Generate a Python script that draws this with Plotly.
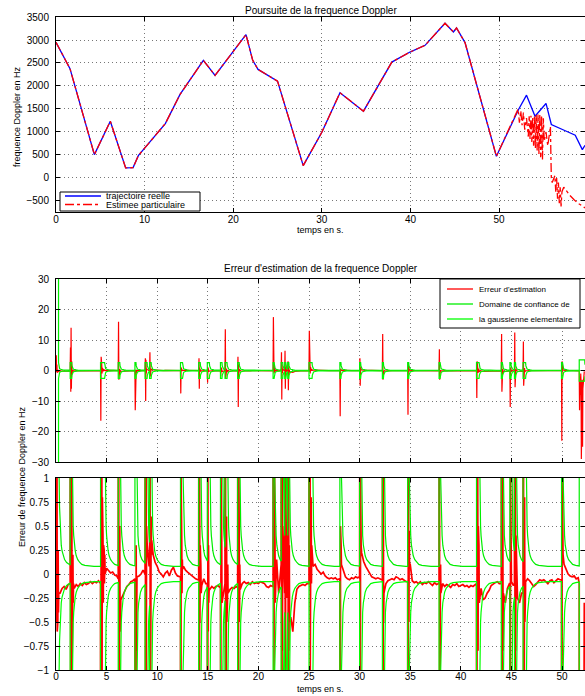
import numpy as np
import plotly.graph_objects as go

# ---------------- Poursuite de la frequence Doppler ----------------
temps_traj = [0, 1.58, 4.33, 6.13, 7.86, 8.7, 9.29, 12.34, 14.0, 14.9, 16.63, 17.95, 21.44,
              22.2, 22.8, 25.0, 27.9, 30.0, 32.05, 34.7, 37.9, 39.95, 41.65, 43.9, 44.85,
              45.2, 46.16, 49.7, 52.2, 53.1, 54.06, 55.3, 55.9, 57.6, 58.6, 59.4, 59.7]
freq_traj = [2950, 2376, 508, 1234, 218, 225, 486, 1183, 1816, 2070, 2557, 2230, 3117,
             2557, 2360, 2106, 268, 994, 1853, 1452, 2520, 2738, 2884, 3364, 3174,
             3261, 2943, 471, 1489, 1801, 1343, 1620, 1162, 1016, 929, 617, 711]

# fin de l'estimee particulaire (decrochage apres 52 s)
temps_est_fin = [52.0, 52.15, 52.3, 52.45, 52.6, 52.75, 52.9, 53.1, 53.3, 53.4, 53.5, 53.6,
                 53.7, 53.8, 53.9, 54.0, 54.1, 54.2, 54.3, 54.4, 54.5, 54.6, 54.7, 54.8,
                 54.9, 55.0, 55.1, 55.3, 55.5, 55.8, 55.85, 55.9, 56.0, 56.3, 56.4, 56.5,
                 56.6, 56.7, 56.8, 56.9, 57.0, 57.1, 57.3, 58.0, 58.5, 59.0, 59.7]
freq_est_fin = [1410, 1500, 1200, 1460, 1150, 1420, 1050, 1300, 900, 1340, 850, 1350,
                780, 1330, 700, 1350, 650, 1370, 600, 1380, 520, 1380, 450, 1360,
                400, 1300, 800, 1000, 700, 1120, 500, 0, -100, 50, -300, 0,
                -450, -100, -550, -200, -620, -300, -200, -380, -480, -560, -650]

# ---------------- Erreur d'estimation ----------------
pas_base = 0.2
erreur_base = [
    0.10, -0.30, -0.20, -0.15, -0.13, -0.16, -0.11, -0.14, -0.12, -0.15,
    -0.11, -0.13, -0.10, -0.12, -0.09, -0.11, -0.10, -0.08, -0.10, -0.08,
    -0.09, -0.07, -0.08, 0.05, 0.15, 0.06, 0.03, 0.01, 0.02, -0.01,
    -0.02, -0.03, -0.27, -0.22, -0.17, -0.13, -0.11, -0.08, -0.07, -0.05,
    -0.03, -0.02, 0.00, 0.04, 0.02, 0.05, 0.08, 0.30, 0.20, 0.12,
    0.08, 0.02, 0.00, -0.03, 0.01, 0.03, -0.02, 0.04, 0.07, 0.01,
    -0.02, -0.03, 0.10, 0.08, 0.04, 0.02, 0.00, -0.02, -0.04, -0.05,
    -0.06, -0.08, -0.12, -0.05, -0.10, -0.20, -0.16, -0.13, -0.15, -0.13,
    -0.12, -0.14, -0.10, -0.18, -0.15, -0.13, -0.16, -0.14, -0.15, -0.13,
    -0.12, -0.16, -0.10, -0.08, -0.10, -0.09, -0.11, -0.08, -0.10, -0.09,
    -0.10, -0.08, -0.09, -0.10, -0.13, -0.14, -0.12, -0.13, -0.10, 0.15,
    -0.20, 0.10, -0.30, 0.20, -0.25, -0.10, -0.45, -0.60, -0.30, -0.16,
    -0.13, -0.12, -0.11, -0.12, -0.10, 0.00, 0.12, 0.08, 0.10, 0.05,
    0.03, 0.00, 0.02, -0.02, -0.04, -0.05, -0.04, -0.05, -0.04, -0.06,
    -0.05, 0.05, 0.03, -0.03, -0.05, -0.06, -0.04, -0.05, -0.03, -0.04,
    -0.03, 0.22, 0.13, 0.08, 0.04, 0.00, -0.03, -0.04, -0.05, -0.04,
    -0.05, -0.06, -0.15, -0.10, -0.07, -0.06, -0.05, -0.06, -0.03, -0.04,
    -0.06, -0.05, -0.07, -0.08, -0.09, 0.10, -0.07, -0.09, -0.08, -0.10,
    -0.08, -0.11, -0.09, -0.10, -0.08, -0.10, -0.12, -0.09, -0.11, -0.10,
    -0.12, -0.10, -0.13, -0.11, -0.12, -0.14, -0.11, -0.12, -0.10, -0.13,
    -0.12, -0.11, -0.13, -0.12, -0.14, -0.12, -0.13, -0.11, -0.10, -0.05,
    -0.15, -0.27, -0.25, -0.20, -0.17, -0.12, -0.10, -0.09, -0.08, -0.10,
    -0.12, -0.20, -0.30, -0.15, -0.10, -0.08, -0.12, -0.20, -0.25, -0.30,
    -0.20, -0.12, -0.08, -0.05, -0.07, -0.10, -0.13, -0.11, -0.08, -0.06,
    -0.07, -0.06, -0.08, -0.10, -0.07, -0.06, -0.09, -0.07, -0.05, -0.06,
    -0.05, 0.10, 0.05, 0.00, -0.02, -0.03, -0.02, -0.05, -0.04, -0.10,
    -0.50, -0.30,
]

# instants de reechantillonnage : debut, duree de l'eclatement, amplitude du domaine
ev_debut = [0.0, 1.4, 4.4, 6.15, 7.8, 8.8, 9.25, 12.3, 14.1, 14.95, 16.25, 16.7, 17.95,
            21.45, 22.25, 22.6, 22.9, 25.0, 28.05, 30.0, 32.25, 34.75, 37.85, 41.55,
            44.0, 44.85, 45.3, 46.15, 49.95, 51.7]
ev_duree = [0.25, 0.15, 0.4, 0.15, 0.1, 0.2, 0.15, 0.2, 0.15, 0.2, 0.15, 0.2, 0.15,
            0.1, 0.15, 0.1, 0.1, 0.3, 0.1, 0.1, 0.1, 0.1, 0.1, 0.25,
            0.1, 0.1, 0.1, 0.25, 0.1, 0.55]
ev_ampl = [40, 2.6, 2.6, 2.6, 2.6, 2.6, 2.6, 2.6, 2.6, 2.6, 2.6, 2.6, 2.6,
           2.6, 2.6, 2.6, 2.6, 2.6, 2.6, 2.6, 2.6, 2.6, 2.6, 2.6,
           2.6, 2.6, 2.6, 2.6, 2.6, 3.5]
pas_pic = 0.03
ev_erreur = [
    [0.3, 5.0, -0.5, 2.0, -0.6, 0.2, -0.5, 0.25, -0.4, -0.2],
    [-0.1, 7.5, -7.0, 14.0, -6.0, 3.0, -1.0, 0.7, -0.4, 0.2, -0.3, -0.1],
    [-0.1, -16.5, 4.5, -2.0, 2.0, -1.0, 0.8, -0.5, 0.4, -0.3, 0.3, -0.2, 0.25, -0.1, 0.2, 0.0],
    [-0.05, 16.0, -3.0, 6.0, -1.0, 0.5, -0.6, 0.2, -0.4],
    [-0.05, -13.0, -1.0, -0.5, 0.3, -0.8, -0.2],
    [0.0, 4.0, -10.0, 3.5, -1.0, 0.5, -0.3, 0.3],
    [0.1, 6.0, -2.0, 1.5, -0.5, 0.6, 0.2, 0.35],
    [-0.03, -7.5, 1.0, -0.5, 0.4, -0.2, 0.15, 0.05],
    [-0.06, 4.0, -6.0, 1.0, -0.5, 0.3, -0.4, 0.1, -0.2],
    [-0.1, -4.0, 1.0, -0.6, 0.3, -0.3, -0.15],
    [-0.12, -2.0, 1.0, -0.6, 0.4, -0.3],
    [-0.1, 13.5, -2.5, 2.0, -1.0, 0.6, -0.5, 0.3, -0.3, 0.1, -0.2],
    [-0.14, 4.5, -12.0, 2.0, -1.0, 0.4, -0.5, 0.1],
    [-0.12, 17.5, 3.0, -1.0, 1.5, -0.6, 0.5, -0.3],
    [0.1, 6.0, -9.5, 2.0, -0.8, 0.5],
    [-0.2, 6.5, -6.0, 1.0, -0.5, 0.4],
    [0.0, 3.0, -6.5, 1.0, -0.8, 0.3, -0.5],
    [-0.1, 13.0, 2.0, 4.5, -1.0, 1.2, 0.5, 0.8, -0.1, 0.3],
    [-0.05, -15.0, 0.5, -0.8, 0.3, 0.1],
    [-0.03, 4.0, -5.0, 1.0, 0.4, 0.3],
    [-0.05, 12.0, -3.0, 1.0, -0.5, -0.2],
    [-0.08, -14.5, 2.5, 0.4, -0.5, 0.45, 0.1],
    [-0.1, 7.0, -3.0, 0.5, -0.3, 0.1, -0.2],
    [-0.1, -9.0, 3.0, -1.5, 1.0, -0.8, 0.5, -0.5, 0.3, -0.3],
    [-0.1, 12.0, -7.0, 2.0, -1.0, 0.5, -0.8],
    [-0.1, -12.0, 1.0, -0.5, 0.3],
    [-0.1, 12.5, -5.5, 1.5, -0.8, 0.4],
    [-0.2, 9.5, -5.0, 3.0, -1.0, 0.8, -0.5, 0.3, -0.2],
    [-0.06, -23.0, 3.0, -1.0, 0.5, 0.2],
    [-0.1, -13.0, -5.0, -2.0, -8.0, -1.0, -4.0, -29.0, -10.0, -20.0, -3.0, -25.0, -6.0],
]

# decroissance du domaine de confiance apres un eclatement
gabarit_dt = [0, 0.03, 0.06, 0.1, 0.15, 0.2, 0.27, 0.35, 0.45, 0.6, 0.8, 1.0, 1.3, 1.7, 2.2]
gabarit_sig = [2.6, 1.5, 1.0, 0.7, 0.5, 0.4, 0.3, 0.24, 0.19, 0.15, 0.12, 0.1, 0.09, 0.083, 0.08]
t_fin = 52.27

# ---- construction de la courbe d'erreur
t_base = np.round(np.arange(len(erreur_base)) * pas_base, 2)
fenetres = [(s, s + (len(v) - 1) * pas_pic) for s, v in zip(ev_debut, ev_erreur)]
pts = [(t, v) for t, v in zip(t_base, erreur_base)
       if not any(a <= t <= b for a, b in fenetres)]
for s, vals in zip(ev_debut, ev_erreur):
    pts += [(s + k * pas_pic, v) for k, v in enumerate(vals)]
pts.sort()
t_err = [p[0] for p in pts]
v_err = [p[1] for p in pts]

# ---- construction du domaine de confiance
t_sig, v_sig = [], []
niveau = None
for i, (s, d, a) in enumerate(zip(ev_debut, ev_duree, ev_ampl)):
    if niveau is not None:
        t_sig.append(s)
        v_sig.append(niveau)
    t_sig += [s, s + d]
    v_sig += [a, a]
    suivant = ev_debut[i + 1] if i + 1 < len(ev_debut) else t_fin
    for dt, sg in zip(gabarit_dt, gabarit_sig):
        if s + d + dt < suivant:
            t_sig.append(s + d + dt)
            v_sig.append(sg)
    niveau = float(np.interp(suivant - s - d, gabarit_dt, gabarit_sig))
    if suivant == t_fin:
        t_sig.append(t_fin)
        v_sig.append(niveau)
v_sig_bas = [-v for v in v_sig]

police = "Liberation Sans, Arial, sans-serif"
ROUGE, VERT1, VERT2, BLEU = '#ff0000', '#00ee00', '#00ff00', '#0000ff'

fig = go.Figure()

fig.add_trace(go.Scatter(x=temps_traj, y=freq_traj, mode='lines', showlegend=False,
                         line=dict(color=BLEU, width=1.3), xaxis='x', yaxis='y'))
i_fin = temps_traj.index(49.7) + 1
fig.add_trace(go.Scatter(x=temps_traj[:i_fin] + temps_est_fin, y=freq_traj[:i_fin] + freq_est_fin,
                         mode='lines', showlegend=False,
                         line=dict(color=ROUGE, width=1.3, dash='dashdot'), xaxis='x', yaxis='y'))

for xa, ya, lw in [('x2', 'y2', 1.2), ('x3', 'y3', 1.7)]:
    fig.add_trace(go.Scatter(x=t_err, y=v_err, mode='lines', showlegend=False,
                             line=dict(color=ROUGE, width=lw), xaxis=xa, yaxis=ya))
    fig.add_trace(go.Scatter(x=t_sig, y=v_sig, mode='lines', showlegend=False,
                             line=dict(color=VERT1, width=1.2), xaxis=xa, yaxis=ya))
    fig.add_trace(go.Scatter(x=t_sig, y=v_sig_bas, mode='lines', showlegend=False,
                             line=dict(color=VERT2, width=1.2), xaxis=xa, yaxis=ya))


def axe(**kw):
    d = dict(showline=True, linecolor='black', linewidth=1, mirror='ticks', ticks='inside',
             ticklen=4, tickcolor='black', showgrid=True, gridcolor='#777',
             griddash='1px,3px', gridwidth=1, zeroline=False, automargin=False,
             tickfont=dict(family=police, size=10, color='black'))
    d.update(kw)
    return d


def lib(vals):
    return [str(v).replace('-', '\u2212') for v in vals]


yt_haut = [-500, 0, 500, 1000, 1500, 2000, 2500, 3000, 3500]
yt_mil = [-30, -20, -10, 0, 10, 20, 30]
yt_bas = [-1, -0.75, -0.5, -0.25, 0, 0.25, 0.5, 0.75, 1]
xt_haut = [0, 10, 20, 30, 40, 50]
xt_bas = [0, 5, 10, 15, 20, 25, 30, 35, 40, 45, 50]

H = 653.0


def fx(px):
    return (px - 56) / 529.0


def fy(py):
    return (670 - py) / H


shapes, annotations = [], []


def legende(x0, y0, x1, y1, entrees, xl0, xl1, xt, taille):
    shapes.append(dict(type='rect', xref='paper', yref='paper', x0=fx(x0), x1=fx(x1),
                       y0=fy(y0), y1=fy(y1), line=dict(color='black', width=1),
                       fillcolor='white', layer='above'))
    for texte, couleur, tiret, y in entrees:
        shapes.append(dict(type='line', xref='paper', yref='paper', x0=fx(xl0), x1=fx(xl1),
                           y0=fy(y), y1=fy(y), line=dict(color=couleur, width=1.3, dash=tiret),
                           layer='above'))
        annotations.append(dict(text=texte, x=fx(xt), y=fy(y), xref='paper', yref='paper',
                                xanchor='left', yanchor='middle', showarrow=False,
                                font=dict(size=taille)))


legende(60, 192, 200, 211, [('trajectoire reelle', BLEU, 'solid', 196),
                            ('Estimee particulaire', ROUGE, 'dashdot', 204.5)],
        65, 101, 104, 9)
legende(440, 279, 580, 328, [("Erreur d'estimation", ROUGE, 'solid', 289),
                             ('Domaine de confiance de', VERT1, 'solid', 304),
                             ('la gaussienne elementaire', VERT2, 'solid', 319)],
        447, 473, 477, 8)


def texte(t, px, py, taille=10, angle=0, famille=police):
    annotations.append(dict(text=t, x=fx(px), y=fy(py), xref='paper', yref='paper',
                            xanchor='center', yanchor='middle', showarrow=False,
                            textangle=angle, font=dict(size=taille, family=famille)))


texte('Poursuite de la frequence Doppler', 321, 10)
texte('temps en s.', 320, 229.5, 9)
texte('frequence Doppler en Hz', 17, 117, 9, -90,
      'Liberation Sans Narrow, Liberation Sans, sans-serif')
texte("Erreur d'estimation de la frequence Doppler", 321, 268)
texte('Erreur de frequence Doppler en Hz', 22, 477, 9, -90)
texte('temps en s.', 320, 689, 9)

fig.update_layout(
    width=585, height=696,
    margin=dict(l=56, r=0, t=17, b=26),
    paper_bgcolor='white', plot_bgcolor='white',
    font=dict(family=police, size=10, color='black'),
    showlegend=False,
    xaxis=axe(domain=[0, 1], range=[0, 59.7], tickvals=xt_haut, ticktext=lib(xt_haut),
              ticklabelstandoff=-2, anchor='y'),
    yaxis=axe(domain=[fy(212), 1], range=[-740, 3500], tickvals=yt_haut, ticktext=lib(yt_haut),
              ticklabelstandoff=4, anchor='x'),
    xaxis2=axe(domain=[0, 1], range=[0, t_fin], tickvals=xt_bas, showticklabels=False, anchor='y2'),
    yaxis2=axe(domain=[fy(462), fy(279)], range=[-30, 30], tickvals=yt_mil, ticktext=lib(yt_mil),
               ticklabelstandoff=4, anchor='x2'),
    xaxis3=axe(domain=[0, 1], range=[0, t_fin], tickvals=xt_bas, ticktext=lib(xt_bas),
               ticklabelstandoff=-3, anchor='y3'),
    yaxis3=axe(domain=[0, fy(478)], range=[-1, 1], tickvals=yt_bas, ticktext=lib(yt_bas),
               ticklabelstandoff=4, anchor='x3'),
    shapes=shapes,
    annotations=annotations,
)

# la page par defaut ajoute une marge de 8 px : on la supprime
fig.write_html("out.html", config={'displayModeBar': False},
               post_script="document.body.style.margin='0px';document.body.style.overflow='hidden';")
